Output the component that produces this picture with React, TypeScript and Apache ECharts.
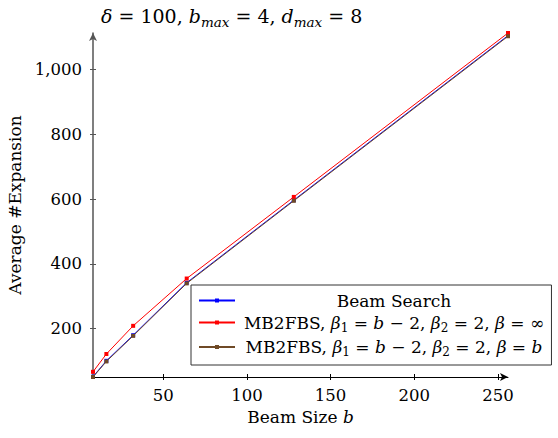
import React, { useEffect, useRef } from 'react';
import * as echarts from 'echarts';

const beamSizes = [8, 16, 32, 64, 128, 256];
const beamSearch = [52, 101, 180, 342, 597, 1105];
const mb2fbsInf = [67, 122, 209, 355, 607, 1113];
const mb2fbsB = [51, 99, 178, 340, 595, 1103];
const xTicks = [50, 100, 150, 200, 250];
const yTicks = [200, 400, 600, 800, 1000];
const seriesNames = [
  'Beam Search',
  'MB2FBS, β1 = b − 2, β2 = 2, β = ∞',
  'MB2FBS, β1 = b − 2, β2 = 2, β = b',
];
const seriesColors = ['#0000ff', '#ff0000', '#6f4a26'];

// legend label pieces: [style, text]; r = roman, i = italic, u = subscript
const legendPieces: [string, string][][] = [
  [['r', 'Beam Search']],
  [['r', 'MB2FBS, '], ['i', 'β'], ['u', '1'], ['r', ' = '], ['i', 'b'], ['r', ' − 2, '], ['i', 'β'], ['u', '2'], ['r', ' = 2, '], ['i', 'β'], ['r', ' = ∞']],
  [['r', 'MB2FBS, '], ['i', 'β'], ['u', '1'], ['r', ' = '], ['i', 'b'], ['r', ' − 2, '], ['i', 'β'], ['u', '2'], ['r', ' = 2, '], ['i', 'β'], ['r', ' = '], ['i', 'b']],
];

const FONT = 'DejaVu Serif';
const LEG = 17;
const SUB = 12;
const TICK = 16.5;
const COLW = 308;

export default function App() {
  const ref = useRef<HTMLDivElement>(null);
  useEffect(() => {
    if (!ref.current) return;
    const chart = echarts.init(ref.current, null, { renderer: 'svg' });
    const ctx = document.createElement('canvas').getContext('2d')!;
    const measure = (t: string, s: string) => {
      ctx.font = (s === 'i' ? 'italic ' : '') + (s === 'u' ? SUB : LEG) + 'px "DejaVu Serif"';
      return ctx.measureText(t).width;
    };
    const legendRich: any = {
      r: { fontFamily: FONT, fontSize: LEG, lineHeight: 22, color: '#000' },
      i: { fontFamily: FONT, fontSize: LEG, lineHeight: 22, fontStyle: 'italic', color: '#000' },
      u: { fontFamily: FONT, fontSize: SUB, lineHeight: 12, verticalAlign: 'bottom', color: '#000' },
    };
    const legendText: Record<string, string> = {};
    legendPieces.forEach((pieces, k) => {
      const total = pieces.reduce((a, [s, t]) => a + measure(t, s), 0);
      const lead = Math.max(0, (COLW - total) / 2);
      const trail = Math.max(0, COLW - total - lead);
      legendRich['s' + k] = { width: lead, fontSize: LEG, lineHeight: 22, fontFamily: FONT };
      legendRich['t' + k] = { width: trail, fontSize: LEG, lineHeight: 22, fontFamily: FONT };
      legendText[seriesNames[k]] =
        `{s${k}| }` + pieces.map(([s, t]) => `{${s}|${t}}`).join('') + `{t${k}| }`;
    });

    const seriesData = [beamSearch, mb2fbsInf, mb2fbsB];
    chart.setOption({
      animation: false,
      backgroundColor: '#fff',
      textStyle: { fontFamily: FONT },
      title: {
        text: '{i|δ} = 100, {i|b}{u|max} = 4, {i|d}{u|max} = 8',
        left: 101,
        top: 3,
        padding: 0,
        textStyle: {
          fontFamily: FONT,
          fontSize: 19,
          fontWeight: 'normal',
          color: '#000',
          lineHeight: 26,
          rich: {
            i: { fontFamily: FONT, fontSize: 19, fontStyle: 'italic', lineHeight: 26, color: '#000' },
            u: { fontFamily: FONT, fontSize: 13.5, fontStyle: 'italic', lineHeight: 14, verticalAlign: 'bottom', color: '#000' },
          },
        },
      },
      grid: { left: 93, top: 33, width: 415, height: 344, containLabel: false, outerBoundsMode: 'none' },
      legend: {
        orient: 'vertical',
        left: 191,
        top: 285,
        padding: [7, 2, 7, 7],
        itemGap: 5,
        itemWidth: 36,
        itemHeight: 5,
        backgroundColor: '#fff',
        borderColor: '#333',
        borderWidth: 1,
        borderRadius: 0,
        data: seriesNames,
        formatter: (name: string) => legendText[name],
        textStyle: { fontFamily: FONT, fontSize: LEG, color: '#000', rich: legendRich },
      },
      xAxis: [
        {
          type: 'value',
          min: 8,
          max: 256,
          position: 'bottom',
          axisLine: { show: true, lineStyle: { color: '#000', width: 1 }, symbol: ['none', 'arrow'], symbolSize: [6, 8] },
          axisTick: { show: true, length: 3, customValues: xTicks, lineStyle: { color: '#000' } },
          axisLabel: { customValues: xTicks, margin: 10, fontFamily: FONT, fontSize: TICK, color: '#000' },
          splitLine: { show: false },
          name: 'Beam Size {i|b}',
          nameLocation: 'middle',
          nameGap: 28,
          nameTextStyle: {
            fontFamily: FONT,
            fontSize: LEG,
            color: '#000',
            rich: { i: { fontFamily: FONT, fontSize: LEG, fontStyle: 'italic', color: '#000' } },
          },
        },
        {
          type: 'value',
          min: 8,
          max: 256,
          position: 'top',
          offset: -344,
          axisLine: { show: false },
          axisTick: { show: true, length: 3, customValues: xTicks, lineStyle: { color: '#000' } },
          axisLabel: { show: false },
          splitLine: { show: false },
        },
      ],
      yAxis: [
        {
          type: 'value',
          min: 51,
          max: 1113,
          position: 'left',
          axisLine: { show: true, lineStyle: { color: '#555', width: 1.5 }, symbol: ['none', 'arrow'], symbolSize: [6, 8] },
          axisTick: { show: true, length: 3, customValues: yTicks, lineStyle: { color: '#555' } },
          axisLabel: {
            customValues: yTicks,
            margin: 11,
            fontFamily: FONT,
            fontSize: TICK,
            color: '#000',
            formatter: (v: number) => v.toLocaleString('en-US'),
          },
          splitLine: { show: false },
          name: 'Average #Expansion',
          nameLocation: 'middle',
          nameGap: 64,
          nameTextStyle: { fontFamily: FONT, fontSize: LEG, color: '#000' },
        },
        {
          type: 'value',
          min: 51,
          max: 1113,
          position: 'right',
          offset: -415,
          axisLine: { show: false },
          axisTick: { show: true, length: 3, customValues: yTicks, lineStyle: { color: '#555' } },
          axisLabel: { show: false },
          splitLine: { show: false },
        },
      ],
      series: seriesNames.map((name, k) => ({
        name,
        type: 'line',
        xAxisIndex: 0,
        yAxisIndex: 0,
        data: beamSizes.map((b, i) => [b, seriesData[k][i]]),
        symbol: 'rect',
        symbolSize: 4,
        showSymbol: true,
        lineStyle: { width: 1, color: seriesColors[k] },
        itemStyle: { color: seriesColors[k] },
        z: 2 + k,
      })),
    });
    return () => chart.dispose();
  }, []);
  return (
    <div
      ref={ref}
      style={{ position: 'fixed', left: 0, top: 0, width: 558, height: 438, background: '#fff' }}
    />
  );
}
